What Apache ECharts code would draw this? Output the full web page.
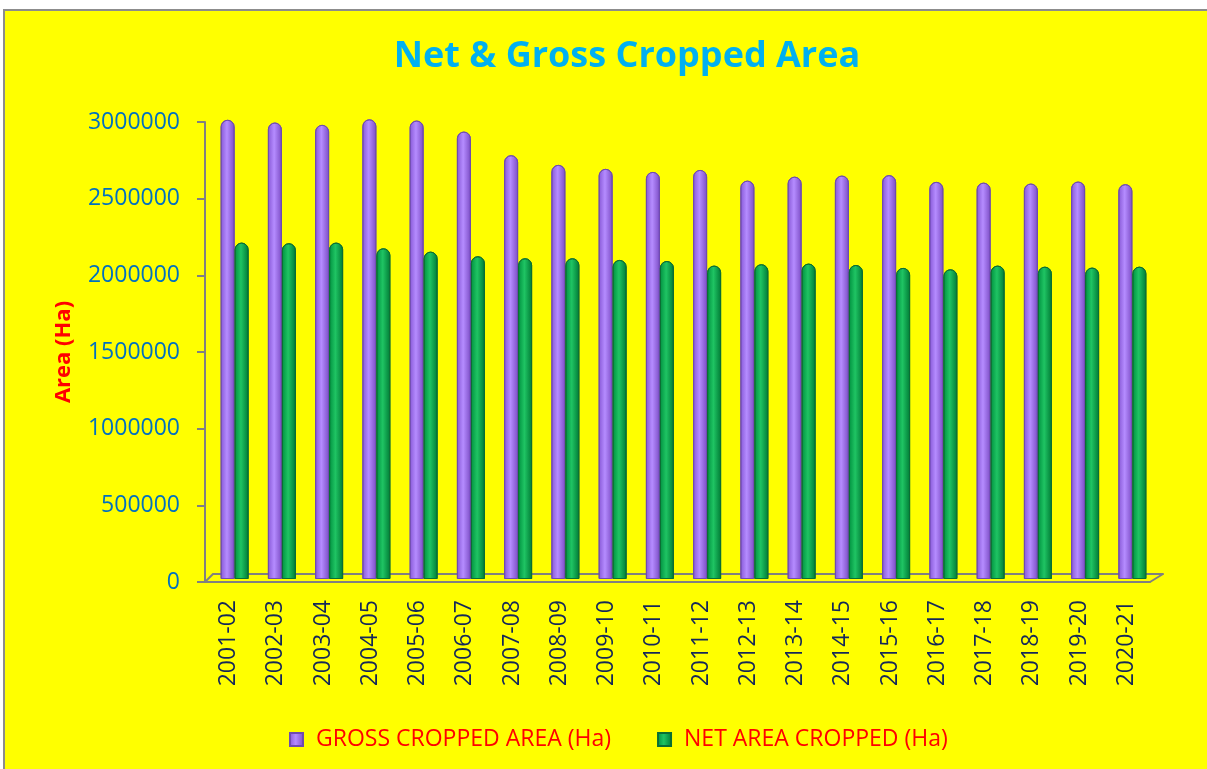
<!DOCTYPE html>
<html>
<head>
  <meta charset="utf-8">
  <title>Net &amp; Gross Cropped Area</title>
  <script src="https://cdn.jsdelivr.net/npm/echarts@6/dist/echarts.min.js"></script>
  <style>
    html, body { margin: 0; padding: 0; background: #ffffff; }
    #frame {
      position: absolute; left: 3px; top: 9px; right: 0; bottom: 0;
      background: #ffff00;
      border-top: 2px solid #8c8c8c; border-left: 2px solid #8c8c8c;
    }
    #main { position: absolute; left: 0; top: 0; width: 1207px; height: 769px; }
  </style>
</head>
<body>
  <div id="frame"></div>
  <div id="main"></div>
  <script>
    // data
    var years = ['2001-02', '2002-03', '2003-04', '2004-05', '2005-06', '2006-07', '2007-08',
      '2008-09', '2009-10', '2010-11', '2011-12', '2012-13', '2013-14', '2014-15', '2015-16',
      '2016-17', '2017-18', '2018-19', '2019-20', '2020-21'];
    var grossArea = [2995000, 2977000, 2962000, 2998000, 2990000, 2918000, 2764000, 2701000,
      2675000, 2655000, 2668000, 2598000, 2624000, 2631000, 2634000, 2590000, 2585000,
      2579000, 2592000, 2575000];
    var netArea = [2194000, 2190000, 2194000, 2157000, 2135000, 2105000, 2092000, 2092000,
      2081000, 2074000, 2044000, 2053000, 2057000, 2048000, 2029000, 2020000, 2044000,
      2037000, 2031000, 2037000];
    var yTicks = [0, 500000, 1000000, 1500000, 2000000, 2500000, 3000000];

    var font = 'Open Sans';
    var edge = '#808080';

    // horizontal gradient gives the cylinder look
    function tube(dark, light, side) {
      return new echarts.graphic.LinearGradient(0, 0, 1, 0, [
        { offset: 0, color: dark },
        { offset: 0.45, color: light },
        { offset: 1, color: side }
      ]);
    }

    var myChart = echarts.init(document.getElementById('main'), null, { renderer: 'canvas' });

    var option = {
      backgroundColor: 'transparent',
      title: {
        text: 'Net & Gross Cropped Area',
        left: 622,
        textAlign: 'center',
        top: 34,
        textStyle: { color: '#00b0f0', fontFamily: font, fontWeight: 'bold', fontSize: 36 }
      },
      legend: {
        left: 284,
        top: 723,
        itemWidth: 13,
        itemHeight: 13,
        itemGap: 46,
        icon: 'rect',
        data: ['GROSS CROPPED AREA (Ha)', 'NET AREA CROPPED (Ha)'],
        textStyle: { color: '#ff0000', fontFamily: font, fontSize: 23, padding: [0, 0, 0, 8] }
      },
      grid: [
        // front axes
        { left: 205, right: 57, top: 122, bottom: 187 },
        // bars, pushed back into the box
        { left: 211, right: 51, top: 119, bottom: 190 },
        // back edge of the floor
        { left: 213, right: 44, top: 114, bottom: 195 }
      ],
      xAxis: [
        {
          gridIndex: 0, type: 'category', data: years,
          axisLine: { lineStyle: { color: edge, width: 2 } },
          axisTick: { length: 8, lineStyle: { color: edge, width: 2 } },
          axisLabel: {
            rotate: 90, margin: 18, interval: 0,
            color: '#14275a', fontFamily: font, fontSize: 23
          }
        },
        {
          gridIndex: 1, type: 'category', data: years,
          axisLine: { show: false }, axisTick: { show: false }, axisLabel: { show: false }
        },
        {
          gridIndex: 2, type: 'category', data: years,
          axisLine: { lineStyle: { color: edge, width: 2 } },
          axisTick: { show: false }, axisLabel: { show: false }
        }
      ],
      yAxis: [
        {
          gridIndex: 0, type: 'value', min: 0, max: 3000000, interval: 500000,
          name: 'Area (Ha)', nameLocation: 'middle', nameGap: 130,
          nameTextStyle: { color: '#ff0000', fontFamily: font, fontWeight: 'bold', fontSize: 22 },
          axisLine: { show: true, lineStyle: { color: edge, width: 2 } },
          axisTick: { show: true, length: 8, lineStyle: { color: edge, width: 2 } },
          splitLine: { show: false },
          axisLabel: {
            margin: 25, color: '#0070c0', fontFamily: font, fontSize: 23,
            formatter: function (v) { return yTicks.indexOf(v) >= 0 ? String(v) : ''; }
          }
        },
        {
          gridIndex: 1, type: 'value', min: 0, max: 3000000, interval: 500000,
          axisLine: { show: false }, axisTick: { show: false },
          axisLabel: { show: false }, splitLine: { show: false }
        },
        {
          gridIndex: 2, type: 'value', min: 0, max: 3000000, interval: 500000,
          axisLine: { show: false }, axisTick: { show: false },
          axisLabel: { show: false }, splitLine: { show: false }
        }
      ],
      graphic: [
        // side edges of the floor
        { type: 'line', shape: { x1: 205, y1: 582, x2: 213, y2: 574 },
          style: { stroke: edge, lineWidth: 2 } },
        { type: 'line', shape: { x1: 1150, y1: 582, x2: 1163, y2: 574 },
          style: { stroke: edge, lineWidth: 2 } }
      ],
      series: [
        {
          name: 'GROSS CROPPED AREA (Ha)', type: 'bar',
          xAxisIndex: 1, yAxisIndex: 1,
          data: grossArea, barWidth: 14, barGap: '0%',
          itemStyle: {
            color: tube('#8657d6', '#b58cff', '#7b4cc4'),
            borderColor: '#6f4bb0', borderWidth: 1,
            borderRadius: [7, 7, 0, 0]
          }
        },
        {
          name: 'NET AREA CROPPED (Ha)', type: 'bar',
          xAxisIndex: 1, yAxisIndex: 1,
          data: netArea, barWidth: 14,
          itemStyle: {
            color: tube('#00903f', '#1fc463', '#007a35'),
            borderColor: '#0a6e35', borderWidth: 1,
            borderRadius: [7, 7, 0, 0]
          }
        }
      ]
    };

    myChart.setOption(option);
  </script>
</body>
</html>
